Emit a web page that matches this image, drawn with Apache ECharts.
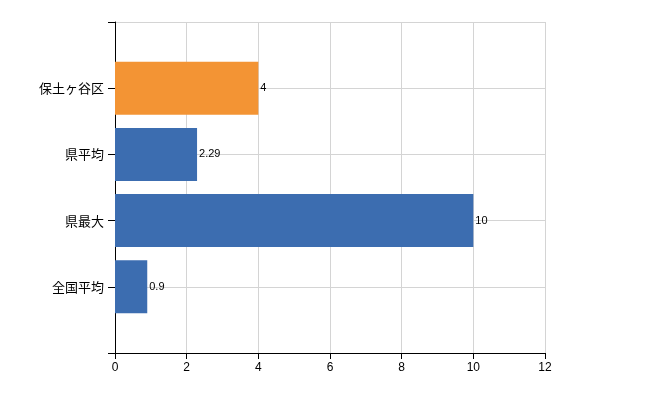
<!DOCTYPE html>
<html>
<head>
<meta charset="utf-8">
<script src="https://cdn.jsdelivr.net/npm/echarts@6/dist/echarts.min.js"></script>
<style>
    html, body { margin: 0; padding: 0; background: #fff; }
    #chart { width: 650px; height: 400px; }
</style>
</head>
<body>
<div id="chart"></div>
<script>
// 上から順に並べる（最初と最後は余白用の空カテゴリ）
const categories = ['', '全国平均', '県最大', '県平均', '保土ヶ谷区', ''];
const values = [null, 0.9, 10, 2.29, 4, null];
const highlightName = '保土ヶ谷区';
const xTicks = [0, 2, 4, 6, 8, 10, 12];

const blue = '#3c6db0';
const orange = '#f39434';

const chart = echarts.init(document.getElementById('chart'));

chart.setOption({
    animation: false,
    grid: { left: 115, right: 105, top: 22, bottom: 47 },
    xAxis: {
        type: 'value',
        min: xTicks[0],
        max: xTicks[xTicks.length - 1],
        interval: 2,
        axisLine: { show: true, lineStyle: { color: '#000', width: 1 } },
        axisTick: { show: true, length: 6, lineStyle: { color: '#000' } },
        axisLabel: { color: '#000', fontSize: 12, margin: 9, fontFamily: 'Liberation Sans, sans-serif' },
        splitLine: { show: true, lineStyle: { color: '#d4d4d4', width: 1 } }
    },
    yAxis: {
        type: 'category',
        data: categories,
        boundaryGap: false,
        axisLine: { show: true, lineStyle: { color: '#000', width: 1 } },
        axisTick: { show: true, length: 7, lineStyle: { color: '#000' } },
        axisLabel: { color: '#000', fontSize: 13, margin: 11, fontFamily: 'Noto Sans CJK JP' },
        splitLine: { show: true, lineStyle: { color: '#d4d4d4', width: 1 } }
    },
    series: [{
        type: 'bar',
        barWidth: 53,
        data: values.map((v, i) => ({
            value: v,
            itemStyle: { color: categories[i] === highlightName ? orange : blue }
        })),
        label: {
            show: true,
            position: 'right',
            distance: 2,
            color: '#000',
            fontSize: 11,
            fontFamily: 'Liberation Sans, sans-serif'
        }
    }]
});
</script>
</body>
</html>
